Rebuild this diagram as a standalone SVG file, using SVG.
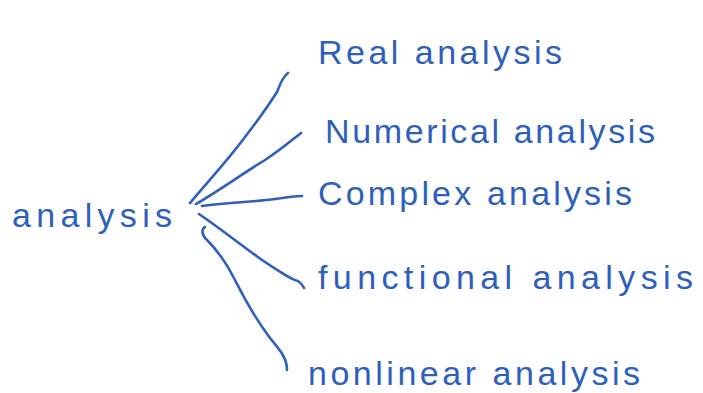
<svg xmlns="http://www.w3.org/2000/svg" width="703" height="393" viewBox="0 0 703 393">
<style>
.t{font-family:"Liberation Sans","DejaVu Sans",sans-serif;font-size:34px;fill:#2f5fbd}
.c path{fill:none;stroke:#2f5fbd;stroke-width:2.6;stroke-linecap:round;stroke-linejoin:round}
</style>
<rect width="703" height="393" fill="#ffffff"/>
<g id="root"><text class="t" x="12" y="227" textLength="160" lengthAdjust="spacing">analysis</text></g>
<g id="real"><text class="t" x="318" y="64" textLength="244" lengthAdjust="spacing">Real analysis</text></g>
<g id="numerical"><text class="t" x="325" y="143" textLength="330" lengthAdjust="spacing">Numerical analysis</text></g>
<g id="complex"><text class="t" x="318" y="205" textLength="314" lengthAdjust="spacing">Complex analysis</text></g>
<g id="functional"><text class="t" x="318" y="289" textLength="375" lengthAdjust="spacing">functional analysis</text></g>
<g id="nonlinear"><text class="t" x="308" y="385" textLength="332" lengthAdjust="spacing">nonlinear analysis</text></g>
<g class="c" id="connectors">
<path d="M190,203 C205,185 228,160 245,137 C262,115 270,103 277,92 C281,82 283,77 288,73"/>
<path d="M196,204 C220,190 245,172 265,160 C280,150 292,140 301,133"/>
<path d="M202,206 C230,202 255,202 275,199 C288,197 295,196 302,196"/>
<path d="M199,214 C225,232 245,248 262,260 C280,272 292,280 298,281 C301,283 303,286 304,288"/>
<path d="M205,227 C201,229 202,236 207,240 C215,248 225,260 235,280 C245,300 258,322 270,338 C280,350 287,358 287,370"/>
</g>
</svg>
